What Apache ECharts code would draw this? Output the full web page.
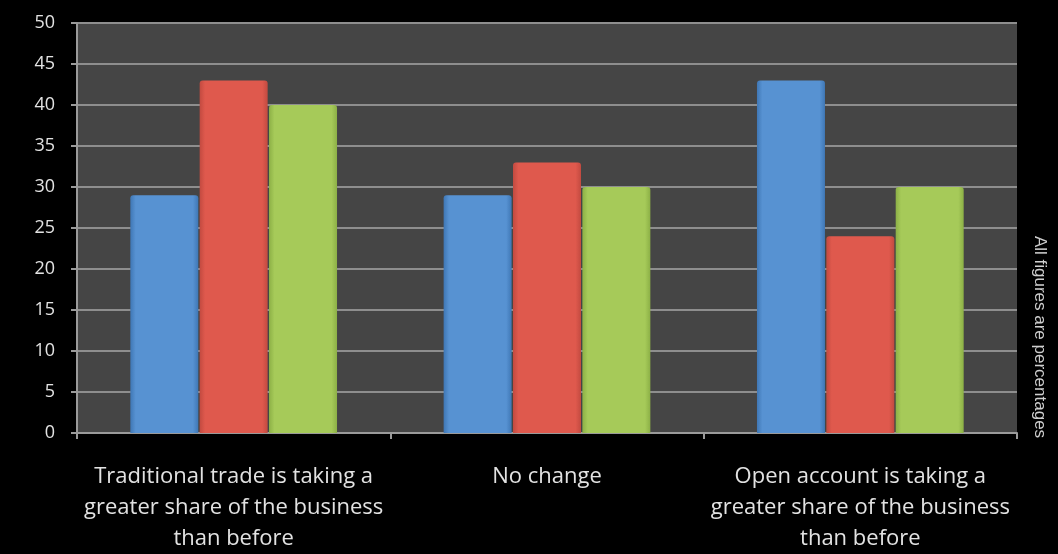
<!DOCTYPE html>
<html>
<head>
<meta charset="utf-8">
<script src="https://cdn.jsdelivr.net/npm/echarts@6/dist/echarts.min.js"></script>
<style>
  html, body { margin: 0; padding: 0; background: #000; }
  #chart { width: 1058px; height: 554px; }
</style>
</head>
<body>
<div id="chart"></div>
<script>
// Survey responses (percent) for each outlook, three respondent groups
const categories = [
  'Traditional trade is taking a\ngreater share of the business\nthan before',
  'No change',
  'Open account is taking a\ngreater share of the business\nthan before'
];
const seriesBlue = [29, 29, 43];
const seriesRed = [43, 33, 24];
const seriesGreen = [40, 30, 30];
const yTicks = { min: 0, max: 50, interval: 5 };
const sideNote = 'All figures are percentages';

function barFill(edge, mid) {
  return new echarts.graphic.LinearGradient(0, 0, 1, 0, [
    { offset: 0, color: edge },
    { offset: 0.08, color: mid },
    { offset: 0.92, color: mid },
    { offset: 1, color: edge }
  ]);
}

function barSeries(values, edge, mid) {
  return {
    type: 'bar',
    data: values,
    barWidth: 68,
    barGap: '2%',
    itemStyle: {
      color: barFill(edge, mid),
      borderRadius: [3, 3, 0, 0]
    }
  };
}

const chart = echarts.init(document.getElementById('chart'));
chart.setOption({
  backgroundColor: '#000',
  animation: false,
  grid: { left: 77, right: 41, top: 23, bottom: 121, backgroundColor: '#454545', show: true, borderWidth: 0 },
  xAxis: {
    type: 'category',
    data: categories,
    axisLine: { lineStyle: { color: '#9a9a9a', width: 2 } },
    axisTick: { show: true, length: 6, lineStyle: { color: '#9a9a9a', width: 2 } },
    axisLabel: {
      color: '#e2e2e2',
      fontFamily: '"Open Sans"',
      fontSize: 22,
      lineHeight: 31,
      margin: 28,
      interval: 0
    }
  },
  yAxis: {
    type: 'value',
    min: yTicks.min,
    max: yTicks.max,
    interval: yTicks.interval,
    axisLine: { show: true, lineStyle: { color: '#9a9a9a', width: 2 } },
    axisTick: { show: true, length: 6, lineStyle: { color: '#9a9a9a', width: 2 } },
    splitLine: { lineStyle: { color: '#8e8e8e', width: 2 } },
    axisLabel: {
      color: '#e2e2e2',
      fontFamily: '"Open Sans"',
      fontSize: 18,
      margin: 22
    }
  },
  series: [
    barSeries(seriesBlue, '#3f77b5', '#5792d2'),
    barSeries(seriesRed, '#c24a40', '#df594d'),
    barSeries(seriesGreen, '#8cb046', '#a6ca59')
  ],
  graphic: [{
    type: 'text',
    x: 1040,
    y: 337,
    rotation: -Math.PI / 2,
    style: {
      text: sideNote,
      fill: '#cfcfcf',
      font: '17px "Liberation Sans", Arial, sans-serif',
      align: 'center',
      verticalAlign: 'middle'
    }
  }]
});
</script>
</body>
</html>
